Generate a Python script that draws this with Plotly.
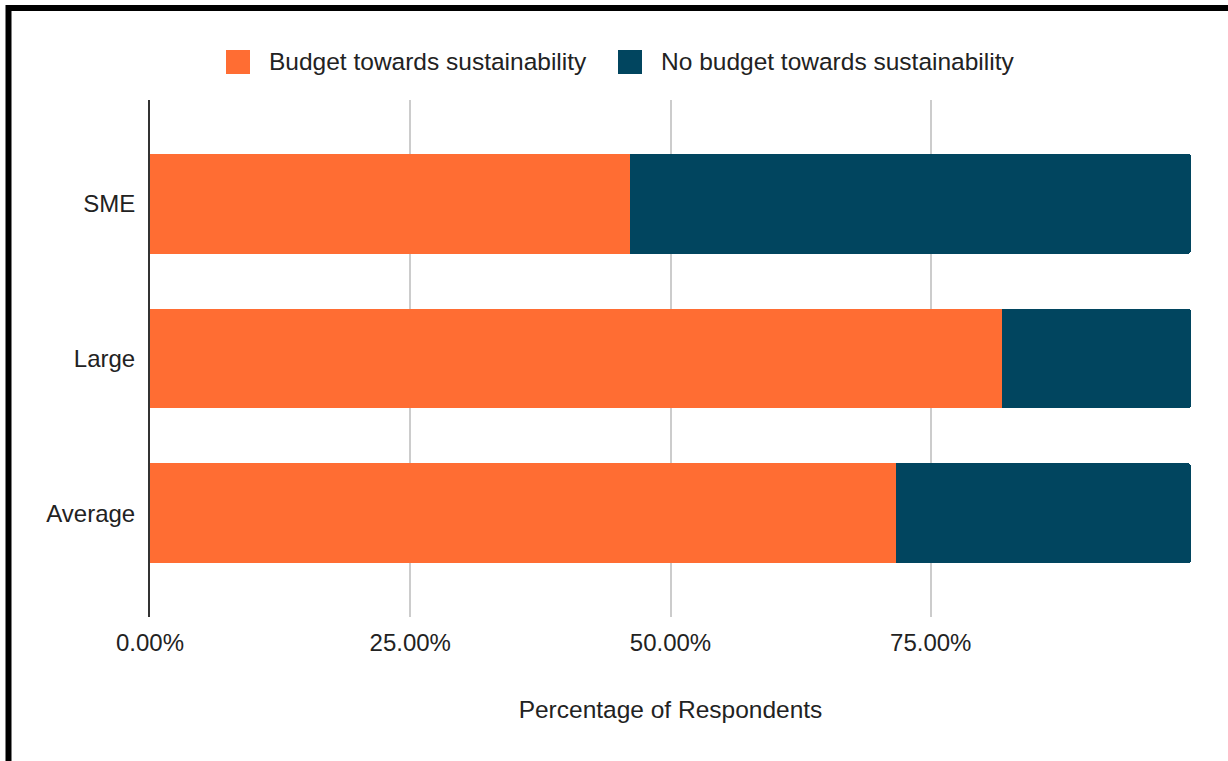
import plotly.graph_objects as go

# Survey data: share of respondents with / without a sustainability budget
categories = ["Average", "Large", "SME"]
series_names = ["Budget towards sustainability", "No budget towards sustainability"]
budget = [0.717, 0.818, 0.461]
no_budget = [0.283, 0.182, 0.539]
tick_values = [0, 0.25, 0.5, 0.75, 1.0]
tick_labels = ["0.00%", "25.00%", "50.00%", "75.00%", ""]
axis_title = "Percentage of Respondents"

colors = ["#FF6D33", "#01455F"]
FONT = "Liberation Sans, Arial, sans-serif"
TEXT = "#222222"
FS = 24.5

W, H = 1228, 761
ML, MR, MT, MB = 150, 37, 100, 144
PW, PH = W - ML - MR, H - MT - MB


def px(x):
    return (x - ML) / PW


def py(y):
    return (H - MB - y) / PH


fig = go.Figure()
for name, vals, col in zip(series_names, [budget, no_budget], colors):
    fig.add_trace(go.Bar(
        y=categories, x=vals, name=name, orientation="h",
        marker=dict(color=col, line=dict(width=0)),
        showlegend=False,
    ))

shapes = []
annotations = []

# Legend drawn as swatches plus labels
legend_swatch_x = [226, 618]
legend_text_x = [267, 659]
legend_y = 62
for sx, tx, name, col in zip(legend_swatch_x, legend_text_x, series_names, colors):
    x0, x1 = px(sx), px(sx + 24)
    y0, y1 = py(legend_y + 12), py(legend_y - 12)
    shapes.append(dict(type="rect", xref="paper", yref="paper",
                       x0=x0, x1=x1, y0=y0, y1=y1,
                       fillcolor=col, line=dict(width=0), layer="above"))
    annotations.append(dict(text=name, xref="paper", yref="paper",
                            x=px(tx), y=py(legend_y), xanchor="left", yanchor="middle",
                            showarrow=False, font=dict(family=FONT, size=FS, color=TEXT)))

# Black frame along the top and left edges
shapes.append(dict(type="line", xref="paper", yref="paper",
                   x0=px(6), x1=px(W + 5), y0=py(8), y1=py(8),
                   line=dict(color="black", width=6), layer="above"))
shapes.append(dict(type="line", xref="paper", yref="paper",
                   x0=px(8.5), x1=px(8.5), y0=py(5), y1=py(H + 5),
                   line=dict(color="black", width=6), layer="above"))

fig.update_layout(
    width=W, height=H,
    margin=dict(l=ML, r=MR, t=MT, b=MB),
    barmode="stack",
    bargap=0.355,
    barcornerradius=3,
    paper_bgcolor="white",
    plot_bgcolor="white",
    font=dict(family=FONT, size=FS, color=TEXT),
    shapes=shapes,
    annotations=annotations,
    xaxis=dict(
        range=[0, 1.0], tickvals=tick_values, ticktext=tick_labels,
        showgrid=True, gridcolor="#cccccc", gridwidth=2,
        zeroline=False, showline=False,
        ticks="outside", ticklen=4, tickcolor="rgba(0,0,0,0)",
        tickfont=dict(family=FONT, size=FS - 0.5, color=TEXT),
        title=dict(text=axis_title, font=dict(family=FONT, size=FS, color=TEXT), standoff=46),
    ),
    yaxis=dict(
        categoryorder="array", categoryarray=categories,
        range=[-0.67, 2.67],
        showgrid=False, zeroline=False,
        showline=True, linecolor="#333333", linewidth=2,
        ticks="outside", ticklen=8, tickcolor="rgba(0,0,0,0)",
        tickfont=dict(family=FONT, size=FS - 0.5, color=TEXT),
    ),
)

fig.write_html("out.html")
